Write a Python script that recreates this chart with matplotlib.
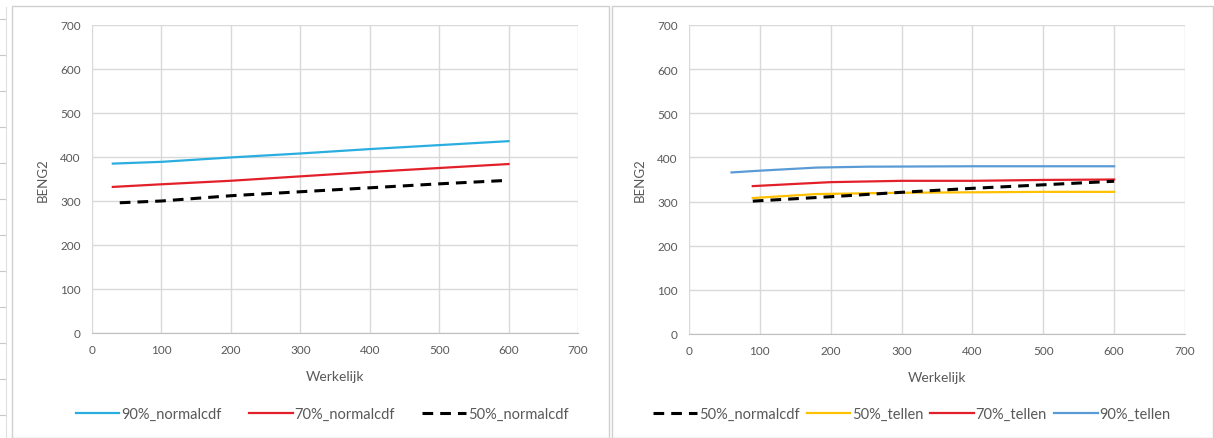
import matplotlib
matplotlib.use("Agg")
import matplotlib.pyplot as plt
from matplotlib.patches import Rectangle
from matplotlib.lines import Line2D

plt.rcParams['font.family'] = ['Lato', 'DejaVu Sans']

# ---- data (left panel) ----
x_norm90 = [30, 100, 200, 300, 400, 500, 600]
y_norm90 = [385, 389, 399, 408, 418, 427, 436]
x_norm70 = [30, 100, 200, 300, 400, 500, 600]
y_norm70 = [332, 338, 346, 356, 366, 375, 384]
x_norm50 = [40, 100, 200, 300, 400, 500, 600]
y_norm50 = [296, 300, 312, 321, 330, 339, 347]

# ---- data (right panel) ----
x_norm50_r = [90, 200, 300, 400, 500, 600]
y_norm50_r = [301, 311, 321, 330, 338, 346]
x_tel50 = [90, 180, 300, 400, 500, 600]
y_tel50 = [308, 317, 320, 321, 322, 322]
x_tel70 = [90, 150, 200, 300, 400, 500, 600]
y_tel70 = [335, 340, 344, 347, 347, 349, 350]
x_tel90 = [60, 100, 180, 250, 400, 500, 600]
y_tel90 = [366, 370, 377, 379, 380, 380, 380]

ticks = [0, 100, 200, 300, 400, 500, 600, 700]

W, H = 1214, 439
fig = plt.figure(figsize=(W / 100, H / 100), dpi=100)
fig.patch.set_facecolor('white')

frame_c = '#d0d0d0'
fig.patches.append(Rectangle((12 / W, 0), (609 - 12) / W, (H - 7) / H,
                             transform=fig.transFigure, fill=False,
                             edgecolor=frame_c, lw=1.0))
fig.patches.append(Rectangle((612 / W, 0), (1213 - 612) / W, (H - 7) / H,
                             transform=fig.transFigure, fill=False,
                             edgecolor=frame_c, lw=1.0))

grid_c = '#d9d9d9'
txt_c = '#595959'


def style(ax):
    ax.set_xlim(0, 700)
    ax.set_ylim(0, 700)
    ax.set_xticks(ticks)
    ax.set_yticks(ticks)
    ax.grid(True, color=grid_c, lw=1.0)
    ax.set_axisbelow(True)
    for s in ['top', 'right', 'left']:
        ax.spines[s].set_visible(False)
    ax.spines['bottom'].set_color('#bfbfbf')
    ax.tick_params(length=0, colors=txt_c, labelsize=8.5, pad=8)
    ax.set_xlabel('Werkelijk', color=txt_c, fontsize=10, labelpad=11)
    ax.set_ylabel('BENG2', color=txt_c, fontsize=9.5, labelpad=8)


cyan = '#2aaee0'
red = '#e3202a'
blue = '#5b9bd5'
yellow = '#ffc000'
dash = dict(color='black', lw=2.2, ls=(0, (3.5, 2.3)))

ax1 = fig.add_axes([92 / W, (H - 334) / H, 486 / W, 308 / H])
style(ax1)
ax1.plot(x_norm90, y_norm90, color=cyan, lw=1.6, label='90%_normalcdf')
ax1.plot(x_norm70, y_norm70, color=red, lw=1.6, label='70%_normalcdf')
ax1.plot(x_norm50, y_norm50, label='50%_normalcdf', **dash)

ax2 = fig.add_axes([689 / W, (H - 335) / H, 496 / W, 309 / H])
style(ax2)
ax2.plot(x_tel50, y_tel50, color=yellow, lw=1.6, label='50%_tellen')
ax2.plot(x_tel70, y_tel70, color=red, lw=1.6, label='70%_tellen')
ax2.plot(x_tel90, y_tel90, color=blue, lw=1.6, label='90%_tellen')
ax2.plot(x_norm50_r, y_norm50_r, label='50%_normalcdf', **dash)

h1, l1 = ax1.get_legend_handles_labels()
fig.legend(h1, l1, loc='center', bbox_to_anchor=(322 / W, 1 - 415 / H),
           ncol=3, frameon=False, fontsize=10.5, handlelength=3.0,
           handletextpad=0.1, columnspacing=1.9, labelcolor=txt_c)

h2, l2 = ax2.get_legend_handles_labels()
order = [3, 0, 1, 2]
fig.legend([h2[i] for i in order], [l2[i] for i in order], loc='center',
           bbox_to_anchor=(912 / W, 1 - 415 / H), ncol=4, frameon=False,
           fontsize=10.5, handlelength=3.0, handletextpad=0.1,
           columnspacing=0.5, labelcolor=txt_c)

# faint ruler ticks on the far left edge
for yy in range(20, 439, 36):
    fig.lines.append(Line2D([0 / W, 5 / W], [1 - yy / H, 1 - yy / H],
                            transform=fig.transFigure, color='#c8c8c8', lw=0.8))
fig.lines.append(Line2D([6 / W, 6 / W], [0, 1 - 8 / H],
                        transform=fig.transFigure, color='#e0e0e0', lw=0.8))

fig.savefig('out.png', dpi=100)
